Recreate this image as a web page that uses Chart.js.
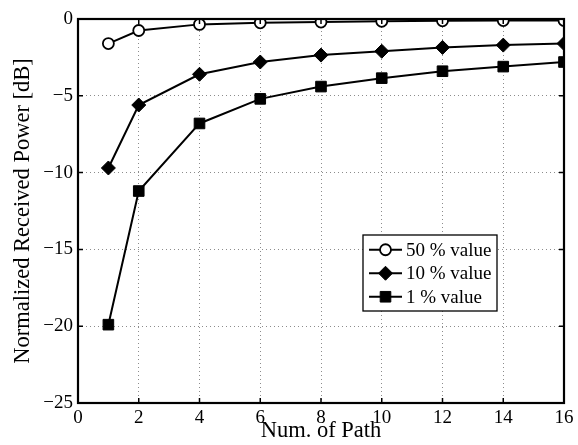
<!DOCTYPE html>
<html>
<head>
<meta charset="utf-8">
<script src="https://cdn.jsdelivr.net/npm/chart.js@4/dist/chart.umd.min.js"></script>
<style>
  html, body { margin: 0; padding: 0; background: #fff; }
  #wrap { width: 578px; height: 445px; position: relative; }
</style>
</head>
<body>
<div id="wrap"><canvas id="powerChart"></canvas></div>
<script>
// number of paths on the x axis
const paths = [1, 2, 4, 6, 8, 10, 12, 14, 16];

// normalized received power [dB] per percentile
const value50 = [-1.6, -0.75, -0.35, -0.25, -0.2, -0.15, -0.12, -0.1, -0.1];
const value10 = [-9.7, -5.6, -3.6, -2.8, -2.35, -2.1, -1.85, -1.7, -1.6];
const value1 = [-19.9, -11.2, -6.8, -5.2, -4.4, -3.85, -3.4, -3.1, -2.8];

const seriesLabels = ['50 % value', '10 % value', '1 % value'];
const xTicks = [0, 2, 4, 6, 8, 10, 12, 14, 16];
const yTicks = [-25, -20, -15, -10, -5, 0];

const FONT = '"Liberation Serif", "Times New Roman", serif';

function toPoints(values) {
    return paths.map((p, i) => ({ x: p, y: values[i] }));
}

function drawMarker(ctx, ds, x, y) {
    ctx.save();
    ctx.fillStyle = ds.pointBackgroundColor;
    ctx.strokeStyle = ds.pointBorderColor;
    ctx.lineWidth = ds.pointBorderWidth;
    Chart.helpers.drawPoint(ctx, {
        pointStyle: ds.pointStyle,
        radius: ds.pointRadius,
        borderWidth: ds.pointBorderWidth
    }, x, y);
    ctx.restore();
}

// frame with inward ticks on all four sides
const framePlugin = {
    id: 'frame',
    afterDraw(chart) {
        const { ctx, chartArea: a, scales } = chart;
        ctx.save();
        ctx.strokeStyle = '#000';
        ctx.lineWidth = 1.5;
        const tl = 5;
        ctx.beginPath();
        xTicks.forEach(t => {
            const px = scales.x.getPixelForValue(t);
            ctx.moveTo(px, a.bottom); ctx.lineTo(px, a.bottom - tl);
            ctx.moveTo(px, a.top); ctx.lineTo(px, a.top + tl);
        });
        yTicks.forEach(t => {
            const py = scales.y.getPixelForValue(t);
            ctx.moveTo(a.left, py); ctx.lineTo(a.left + tl, py);
            ctx.moveTo(a.right, py); ctx.lineTo(a.right - tl, py);
        });
        ctx.stroke();
        ctx.lineWidth = 2.2;
        ctx.strokeRect(a.left, a.top, a.right - a.left, a.bottom - a.top);
        ctx.restore();
    }
};

// boxed legend sitting inside the plot area, lower right
const boxLegendPlugin = {
    id: 'boxLegend',
    afterDraw(chart) {
        const { ctx, chartArea: a } = chart;
        const w = 134, rowH = 23.5, h = 76;
        const x0 = a.right - 67 - w;
        const y0 = a.bottom - 92 - h;
        ctx.save();
        ctx.fillStyle = '#fff';
        ctx.fillRect(x0, y0, w, h);
        ctx.strokeStyle = '#000';
        ctx.lineWidth = 1.3;
        ctx.strokeRect(x0, y0, w, h);
        ctx.font = '19px ' + FONT;
        ctx.textBaseline = 'middle';
        chart.data.datasets.forEach((ds, i) => {
            const cy = y0 + 3 + rowH * i + rowH / 2;
            const lx = x0 + 6;
            ctx.strokeStyle = '#000';
            ctx.lineWidth = ds.borderWidth;
            ctx.beginPath();
            ctx.moveTo(lx, cy); ctx.lineTo(lx + 33, cy);
            ctx.stroke();
            drawMarker(ctx, ds, lx + 16.5, cy);
            ctx.fillStyle = '#000';
            ctx.fillText(ds.label, lx + 37, cy + 1);
        });
        ctx.restore();
    }
};

const gridOpts = {
    color: '#8c8c8c',
    lineWidth: 1,
    drawTicks: false
};

new Chart(document.getElementById('powerChart'), {
    type: 'line',
    data: {
        datasets: [
            {
                label: seriesLabels[0],
                data: toPoints(value50),
                borderColor: '#000',
                borderWidth: 2,
                pointStyle: 'circle',
                pointRadius: 5.5,
                pointBorderWidth: 1.8,
                pointBackgroundColor: '#fff',
                pointBorderColor: '#000'
            },
            {
                label: seriesLabels[1],
                data: toPoints(value10),
                borderColor: '#000',
                borderWidth: 2,
                pointStyle: 'rectRot',
                pointRadius: 7,
                pointBorderWidth: 1,
                pointBackgroundColor: '#000',
                pointBorderColor: '#000'
            },
            {
                label: seriesLabels[2],
                data: toPoints(value1),
                borderColor: '#000',
                borderWidth: 2,
                pointStyle: 'rect',
                pointRadius: 7.5,
                pointBorderWidth: 1,
                pointBackgroundColor: '#000',
                pointBorderColor: '#000'
            }
        ]
    },
    options: {
        responsive: true,
        maintainAspectRatio: false,
        animation: false,
        events: [],
        layout: { padding: { top: 19, right: 14, left: 0, bottom: 0 } },
        plugins: {
            legend: { display: false },
            tooltip: { enabled: false }
        },
        scales: {
            x: {
                type: 'linear',
                min: 0,
                max: 16,
                afterBuildTicks(scale) { scale.ticks = xTicks.map(v => ({ value: v })); },
                afterFit(scale) { scale.height = 42; },
                grid: gridOpts,
                border: { display: false, dash: [1, 3] },
                ticks: {
                    color: '#000',
                    padding: 4,
                    maxRotation: 0,
                    font: { family: FONT, size: 19 }
                },
                title: {
                    display: true,
                    text: 'Num. of Path',
                    color: '#000',
                    padding: { top: -8, bottom: 0 },
                    font: { family: FONT, size: 22.5 }
                }
            },
            y: {
                type: 'linear',
                min: -25,
                max: 0,
                afterBuildTicks(scale) { scale.ticks = yTicks.map(v => ({ value: v })); },
                afterFit(scale) { scale.width = 78; },
                grid: gridOpts,
                border: { display: false, dash: [1, 3] },
                ticks: {
                    color: '#000',
                    padding: 5,
                    font: { family: FONT, size: 19 },
                    callback: v => (v < 0 ? '\u2212' + Math.abs(v) : String(v))
                },
                title: {
                    display: true,
                    text: 'Normalized Received Power [dB]',
                    color: '#000',
                    padding: { top: 10, bottom: 0 },
                    font: { family: FONT, size: 22.5 }
                }
            }
        }
    },
    plugins: [framePlugin, boxLegendPlugin]
});
</script>
</body>
</html>
